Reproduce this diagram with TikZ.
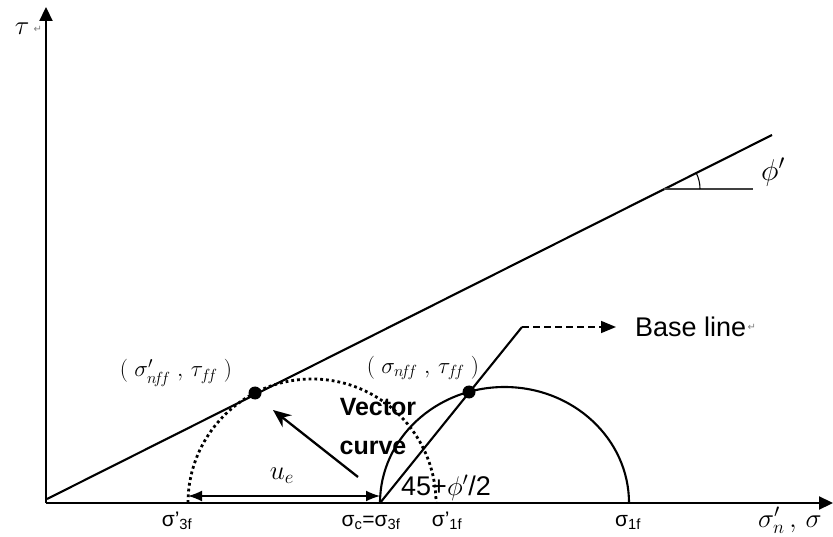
\RequirePackage{fix-cm}
\documentclass[tikz,border=0pt]{standalone}
\usepackage{amsmath,amssymb}
\usepackage{fontspec}
\setmainfont{Liberation Sans}
\newfontfamily\retfont{DejaVu Sans}
\usetikzlibrary{arrows.meta,positioning}

\tikzset{
  axis/.style={line width=2.2pt,-{Triangle[length=14pt,width=13pt]}},
  ln/.style={line width=2.1pt},
  dotarc/.style={line width=2.8pt,dash pattern=on 2.8pt off 3pt},
  lbl/.style={font=\fontsize{21}{24}\selectfont,inner sep=0pt},
  mlbl/.style={font=\fontsize{23}{26}\selectfont,inner sep=0pt},
  retmark/.style={font=\retfont\fontsize{10}{11}\selectfont,text=gray,inner sep=0pt}
}

\begin{document}
\begin{tikzpicture}[>=Stealth,x=1pt,y=-1pt]
\useasboundingbox[fill=white] (0,0) rectangle (833,537);
\coordinate (o) at (46,503);
\coordinate (ytop) at (46,7);
\coordinate (xend) at (833,503);
\coordinate (f0) at (47,499);
\coordinate (f1) at (772,135);
\coordinate (v) at (664,189);
\coordinate (h) at (753,189);
\coordinate (s3) at (188,503);
\coordinate (sc) at (380,503);
\coordinate (s1) at (629,503);
\coordinate (b1) at (522,327);
\coordinate (b2) at (616,327);
\coordinate (pa) at (255,393);
\coordinate (pb) at (469,392);
\coordinate (ua) at (188,496);
\coordinate (ub) at (380,496);
\coordinate (va) at (358,477);
\coordinate (vb) at (273,410);
\draw[axis] (o)--(ytop);
\draw[axis] (o)--(xend);
\draw[ln] (f0)--(f1);
\draw[line width=1.4pt,black!75] (v)--(h);
\draw[line width=1.1pt] (v) ++(36,0) arc[start angle=0,end angle=-26.6,radius=36];
\draw[dotarc] (s3) arc[start angle=180,end angle=360,radius=124];
\draw[ln] (sc) arc[start angle=180,end angle=360,x radius=124.5,y radius=116];
\draw[ln] (sc)--(b1);
\draw[line width=1.5pt,dash pattern=on 7pt off 4pt,-{Triangle[length=15pt,width=12pt]}] (b1)--(b2);
\draw[line width=1.6pt,{Latex[length=14pt,width=11pt]}-{Latex[length=14pt,width=11pt]}] (ua)--(ub);
\draw[line width=2.3pt,-{Stealth[length=18pt,width=15pt]}] (va)--(vb);
\fill (pa) circle (6.5);
\fill (pb) circle (6.5);
\node[mlbl,font=\fontsize{27}{30}\selectfont] (tau) at (22,29) {$\tau$};
\node[retmark,right=4pt of tau] (tauret) {↵};
\node[mlbl,font=\fontsize{30}{34}\selectfont] (phi) at (773,172) {$\phi'$};
\node[lbl,font=\fontsize{27}{30}\selectfont,anchor=west] (base) at (635,327) {Base line};
\node[retmark,right=1pt of base] (baseret) {↵};
\node[mlbl] (lpa) at (176,373) {$(\;\sigma'_{n\!f\!f}\;,\,\tau_{f\!f}\;)$};
\node[mlbl] (lpb) at (423,368) {$(\;\sigma_{n\!f\!f}\;,\,\tau_{f\!f}\;)$};
\node[lbl,font=\bfseries\fontsize{25}{28}\selectfont] (vec) at (378,407) {Vector};
\node[lbl,font=\bfseries\fontsize{25}{28}\selectfont] (crv) at (373,448) {curve};
\node[mlbl,font=\fontsize{27}{30}\selectfont] (ue) at (282,476) {$u_e$};
\node[lbl,font=\fontsize{27}{30}\selectfont,anchor=west] (ang) at (401,488) {45+$\phi'$/2};
\node[lbl,anchor=base] (l3) at (177,526) {σ'\textsubscript{3f}};
\node[lbl,anchor=base] (lc) at (371,526) {σ\textsubscript{c}=σ\textsubscript{3f}};
\node[lbl,anchor=base] (l1p) at (447,526) {σ'\textsubscript{1f}};
\node[lbl,anchor=base] (l1) at (628,526) {σ\textsubscript{1f}};
\node[mlbl,font=\fontsize{27}{30}\selectfont,anchor=base west] (lx) at (758,527) {$\sigma_n'\,,\,\sigma$};
\end{tikzpicture}
\end{document}
